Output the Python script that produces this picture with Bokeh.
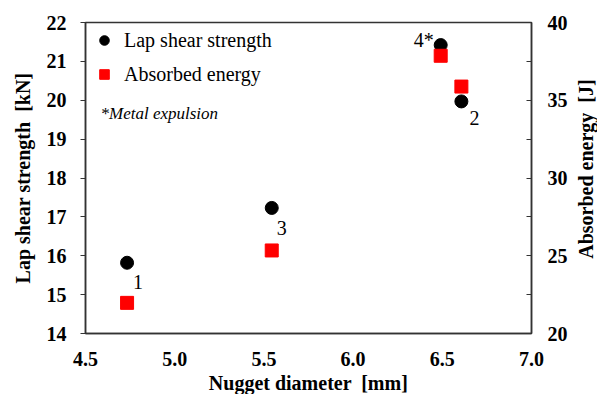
import math
from bokeh.plotting import figure
from bokeh.layouts import row
from bokeh.models import (Range1d, LinearAxis, FixedTicker, NumeralTickFormatter,
                          ColumnDataSource, Legend, LegendItem, Label, LabelSet)
from bokeh.embed import file_html
from bokeh.resources import INLINE

# ---- data ----
diameter = [4.733, 6.607, 5.544, 6.491]
lap_shear = [15.82, 19.97, 17.23, 21.42]
energy = [21.97, 35.88, 25.34, 37.86]
point_labels = ["1", "2", "3", "4*"]
x_ticks = [4.5, 5.0, 5.5, 6.0, 6.5, 7.0]
left_ticks = [14, 15, 16, 17, 18, 19, 20, 21, 22]
right_ticks = [20, 25, 30, 35, 40]
right_minor = [22.5, 27.5, 32.5, 37.5]

# label offsets (screen px)
lab_dx = [11, 13, 10, -17]
lab_dy = [-19, -17, -20, 5]

SERIF = "Liberation Serif"
NB = "\u00a0"

p = figure(width=570, height=399, output_backend="svg", toolbar_location=None,
           x_range=Range1d(4.5, 7.0), y_range=Range1d(14, 22),
           min_border_left=85, min_border_right=38, min_border_top=22, min_border_bottom=66,
           x_axis_type=None, y_axis_type=None)
p.extra_y_ranges = {"energy": Range1d(20, 40)}
p.xgrid.visible = False
p.ygrid.visible = False
p.outline_line_color = "#333333"
p.outline_line_width = 1.5
p.background_fill_color = "white"
p.border_fill_color = "white"

def style_axis(ax):
    ax.major_label_text_font = SERIF
    ax.major_label_text_font_style = "bold"
    ax.major_label_text_font_size = "20px"
    ax.major_label_text_color = "black"
    ax.axis_label_text_font = SERIF
    ax.axis_label_text_font_style = "bold"
    ax.axis_label_text_font_size = "20px"
    ax.axis_label_text_color = "black"
    ax.axis_line_color = "#333333"
    ax.axis_line_width = 1.5
    ax.major_tick_line_color = "#333333"
    ax.minor_tick_line_color = "#333333"

xax = LinearAxis(ticker=FixedTicker(ticks=x_ticks), formatter=NumeralTickFormatter(format="0.0"),
                 axis_label="Nugget diameter " + NB + "[mm]")
style_axis(xax)
xax.major_tick_in = 0
xax.major_tick_out = 0
xax.minor_tick_in = 0
xax.minor_tick_out = 0
xax.major_label_standoff = 18
xax.axis_label_standoff = 3
p.add_layout(xax, "below")

lax = LinearAxis(ticker=FixedTicker(ticks=left_ticks), formatter=NumeralTickFormatter(format="0"),
                 axis_label="Lap shear strength " + NB + "[kN]")
style_axis(lax)
lax.major_tick_in = 0
lax.major_tick_out = 5
lax.minor_tick_in = 0
lax.minor_tick_out = 0
lax.major_label_standoff = 14
lax.axis_label_standoff = 10
p.add_layout(lax, "left")

rax = LinearAxis(y_range_name="energy",
                 ticker=FixedTicker(ticks=right_ticks, minor_ticks=right_minor),
                 formatter=NumeralTickFormatter(format="0"))
style_axis(rax)
rax.major_tick_in = 5
rax.major_tick_out = 0
rax.minor_tick_in = 5
rax.minor_tick_out = 0
rax.major_label_standoff = 16
p.add_layout(rax, "right")

src = ColumnDataSource(dict(x=diameter, ls=lap_shear, en=energy, t=point_labels,
                            dx=lab_dx, dy=lab_dy))

r_ls = p.scatter("x", "ls", source=src, marker="circle", size=13,
                 fill_color="black", line_color="black")
r_en = p.scatter("x", "en", source=src, marker="square", size=13, y_range_name="energy",
                 fill_color="#FF0000", line_color="#FF0000")

p.add_layout(LabelSet(x="x", y="ls", text="t", source=src, x_offset="dx", y_offset="dy",
                      text_align="center", text_baseline="middle",
                      text_font=SERIF, text_font_size="20px", text_color="black"))

legend = Legend(items=[LegendItem(label="Lap shear strength", renderers=[r_ls]),
                       LegendItem(label="Absorbed energy", renderers=[r_en])],
                location="top_left", margin=6, padding=6, spacing=10,
                glyph_width=26, glyph_height=24, label_height=24, label_standoff=7,
                border_line_color=None, background_fill_alpha=0,
                label_text_font=SERIF, label_text_font_size="20px", label_text_color="black")
p.add_layout(legend)

p.add_layout(Label(x=4.584, y=19.66, text="*Metal expulsion", text_baseline="alphabetic",
                   text_font=SERIF, text_font_style="italic", text_font_size="17px",
                   text_color="black"))

# narrow strip on the right carrying the right-axis title (reads bottom-to-top)
p2 = figure(width=27, height=399, output_backend="svg", toolbar_location=None,
            x_range=Range1d(0, 27), y_range=Range1d(0, 399), min_border=0,
            x_axis_type=None, y_axis_type=None)
p2.outline_line_color = None
p2.xgrid.visible = False
p2.ygrid.visible = False
p2.border_fill_color = "white"
p2.background_fill_color = "white"
p2.add_layout(Label(x=15, y=211, text="Absorbed energy " + NB + "[J]", angle=math.pi / 2,
                    text_align="center", text_baseline="middle",
                    text_font=SERIF, text_font_style="bold", text_font_size="20px",
                    text_color="black"))

layout = row(p, p2, spacing=0)
open("out.html", "w").write(file_html(layout, INLINE))
